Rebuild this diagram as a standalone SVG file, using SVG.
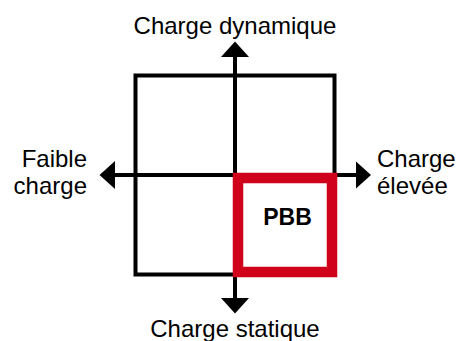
<svg xmlns="http://www.w3.org/2000/svg" width="461" height="341" viewBox="0 0 461 341">
  <style>
    .lbl { font-family: "Liberation Sans", Arial, Helvetica, sans-serif; font-size: 24px; fill: #000; }
    .bold { font-weight: bold; font-size: 23px; }
    .axis { stroke: #000; stroke-width: 4; fill: none; marker-start: url(#arrow); marker-end: url(#arrow); }
    .frame { stroke: #000; stroke-width: 4; fill: #fff; }
    .pbb { stroke: #d0021b; stroke-width: 10.5; fill: #fff; }
  </style>
  <defs>
    <marker id="arrow" viewBox="0 0 16 28" refX="7.5" refY="14" markerWidth="16" markerHeight="28" markerUnits="userSpaceOnUse" orient="auto-start-reverse">
      <path d="M0,0 L15.5,14 L0,28 Z" fill="#000"/>
    </marker>
  </defs>
  <rect width="461" height="341" fill="#fff"/>
  <g id="grid">
    <rect class="frame" x="135.5" y="75.5" width="199" height="199"/>
  </g>
  <g id="connectors">
    <line class="axis" x1="107.5" y1="175" x2="363" y2="175"/>
    <line class="axis" x1="235" y1="305.5" x2="235" y2="49.5"/>
  </g>
  <g id="pbb">
    <rect class="pbb" x="238" y="178" width="94" height="94"/>
    <text class="lbl bold" x="287.5" y="225" text-anchor="middle">PBB</text>
  </g>
  <g id="label-top">
    <text class="lbl" x="235" y="34" text-anchor="middle">Charge dynamique</text>
  </g>
  <g id="label-bottom">
    <text class="lbl" x="235" y="336.5" text-anchor="middle">Charge statique</text>
  </g>
  <g id="label-left">
    <text class="lbl" x="87" y="166.5" text-anchor="end">Faible</text>
    <text class="lbl" x="87" y="194" text-anchor="end">charge</text>
  </g>
  <g id="label-right">
    <text class="lbl" x="377" y="166.5">Charge</text>
    <text class="lbl" x="377" y="194">élevée</text>
  </g>
</svg>
